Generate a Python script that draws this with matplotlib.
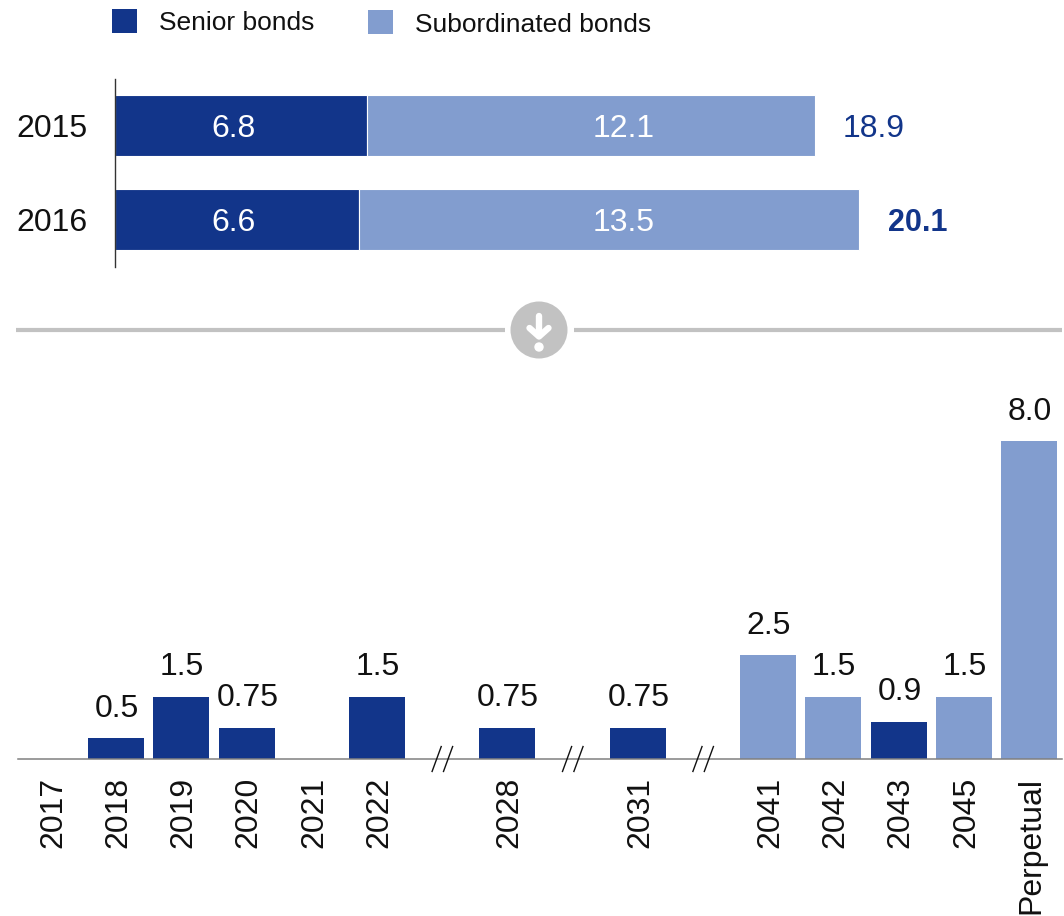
import matplotlib.pyplot as plt
from matplotlib.patches import Circle, Rectangle
from matplotlib.transforms import ScaledTranslation

plt.rcParams['font.family'] = ['Liberation Sans', 'DejaVu Sans']

DARK = '#12358a'
LIGHT = '#829dcf'
GRAY = '#c2c2c2'
TEXT = '#111111'

# top chart
years_top = ['2015', '2016']
senior = [6.8, 6.6]
subordinated = [12.1, 13.5]
totals = ['18.9', '20.1']

# bottom chart
maturities = ['2017', '2018', '2019', '2020', '2021', '2022', '2028', '2031',
              '2041', '2042', '2043', '2045', 'Perpetual']
slots = [0, 1, 2, 3, 4, 5, 7, 9, 11, 12, 13, 14, 15]
# bar lengths as drawn: the perpetual bar is drawn shorter than its 8.0 label
heights = [0, 0.5, 1.5, 0.75, 0, 1.5, 0.75, 0.75, 2.5, 1.5, 0.9, 1.5, 7.66]
labels = ['', '0.5', '1.5', '0.75', '', '1.5', '0.75', '0.75', '2.5', '1.5', '0.9', '1.5', '8.0']
kinds = ['s', 's', 's', 's', 's', 's', 's', 's', 'u', 'u', 's', 'u', 'u']
break_slots = [6, 8, 10]

W, H = 1064, 916
fig = plt.figure(figsize=(W / 100, H / 100), dpi=100)


def axes_px(x0, y0, x1, y1):
    return fig.add_axes([x0 / W, 1 - y1 / H, (x1 - x0) / W, (y1 - y0) / H])


# overlay in pixel coordinates for legend and divider
bg = axes_px(0, 0, W, H)
bg.set_xlim(0, W)
bg.set_ylim(H, 0)
bg.axis('off')

bg.add_patch(Rectangle((112, 9), 25, 24, color=DARK, lw=0))
bg.text(159, 23, 'Senior bonds', fontsize=19, va='center', color=TEXT)
bg.add_patch(Rectangle((368, 10), 25, 24, color=LIGHT, lw=0))
bg.text(415, 25, 'Subordinated bonds', fontsize=19, va='center', color=TEXT)

bg.plot([16, 505], [330, 330], color=GRAY, lw=3, solid_capstyle='butt')
bg.plot([574, 1062], [330, 330], color=GRAY, lw=3, solid_capstyle='butt')
bg.add_patch(Circle((539, 330), 28.5, color=GRAY, lw=0))
bg.plot([539, 539], [316, 335], color='white', lw=4.6, solid_capstyle='round')
bg.plot([529.5, 539, 548.5], [328, 336.5, 328], color='white', lw=4.6,
        solid_capstyle='round', solid_joinstyle='round')
bg.add_patch(Circle((539, 347), 4.7, color='white', lw=0))

# top horizontal bars
ax1 = axes_px(115, 79, 1000, 267)
px_per_unit = (815 - 115) / 18.9
ax1.set_xlim(0, (1000 - 115) / px_per_unit)
ax1.set_ylim(267, 79)
centers = [126, 220]
bar_h = 61
ax1.barh(centers, senior, height=bar_h, color=DARK, edgecolor='white', linewidth=0.8)
ax1.barh(centers, subordinated, left=senior, height=bar_h, color=LIGHT, edgecolor='white', linewidth=0.8)
for c, a, b in zip(centers, senior, subordinated):
    ax1.text(3.2, c + 3, f'{a:.1f}', color='white', fontsize=23, ha='center', va='center')
    ax1.text(13.73, c + 3, f'{b:.1f}', color='white', fontsize=23, ha='center', va='center')
ax1.text(19.65, centers[0] + 3, totals[0], color=DARK, fontsize=23, va='center')
ax1.text(20.87, centers[1] + 3, totals[1], color=DARK, fontsize=22, va='center', fontweight='bold')
ax1.set_yticks(centers, years_top, fontsize=23, color=TEXT)
ax1.tick_params(axis='y', length=0, pad=20)
ax1.set_xticks([])
for s in ['top', 'right', 'bottom']:
    ax1.spines[s].set_visible(False)
ax1.spines['left'].set_color('#333333')
ax1.spines['left'].set_linewidth(1)
ax1.patch.set_alpha(0)

# bottom column chart
ax2 = axes_px(18, 400, 1062, 759)
step = 65.2
x_first = 51
unit_px = 41.5
ax2.set_xlim((18 - x_first) / step, (1062 - x_first) / step)
ax2.set_ylim(0, 359 / unit_px)
cols = [DARK if k == 's' else LIGHT for k in kinds]
ax2.bar(slots, heights, width=56 / step, color=cols, linewidth=0)
for x, v, t in zip(slots, heights, labels):
    if t:
        ax2.annotate(t, (x, v), xytext=(0.6, 21.3), textcoords='offset points',
                     fontsize=23, ha='center', va='center', color=TEXT)
ax2.set_xticks(slots, maturities, rotation=90, fontsize=23, color=TEXT)
ax2.tick_params(axis='x', length=0, pad=13)
# rotated labels sit a little left of the bar centre otherwise
shift = ScaledTranslation(1.6 / 72, 0, fig.dpi_scale_trans)
for lab in ax2.get_xticklabels():
    lab.set_transform(lab.get_transform() + shift)
ax2.set_yticks([])
for s in ['top', 'right', 'left']:
    ax2.spines[s].set_visible(False)
ax2.spines['bottom'].set_color('#808080')
ax2.spines['bottom'].set_linewidth(1.1)
ax2.patch.set_alpha(0)

# axis break marks over the baseline
for b in break_slots:
    for dx in (-0.085, 0.09):
        ax2.plot([b + dx - 0.07, b + dx + 0.07], [-0.3, 0.3], color='#111111', lw=1,
                 clip_on=False, zorder=6)

fig.savefig('out.png', dpi=100)
